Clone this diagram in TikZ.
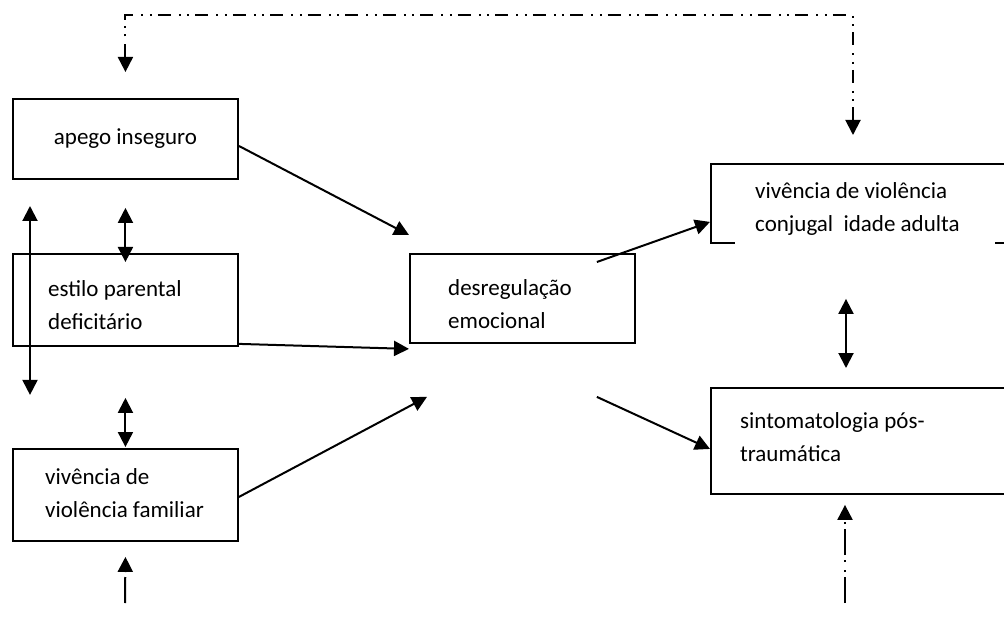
\documentclass[tikz,border=0pt]{standalone}
\usepackage{fontspec}
\setmainfont{Carlito}
\usetikzlibrary{arrows.meta}

\begin{document}
\begin{tikzpicture}[x=1pt,y=-1pt,
        box/.style={draw,line width=1.9pt,anchor=north west,inner sep=0pt},
        lbl/.style={align=flush left,inner sep=0pt,font=\fontsize{23}{33}\selectfont},
        arr/.style={line width=2pt,-{Triangle[length=15pt,width=15pt]}},
        darr/.style={line width=2pt,{Triangle[length=15pt,width=15pt]}-{Triangle[length=15pt,width=15pt]}},
        loopline/.style={line width=2pt,dash pattern=on 13pt off 8pt on 2pt off 6.5pt on 2pt off 6pt},
        inline/.style={line width=2pt,dash pattern=on 26pt off 5pt on 2pt off 8pt on 2pt off 5pt}]
        \useasboundingbox (0,0) rectangle (1004,628);
        \node[box,lbl,minimum width=225pt,minimum height=80pt] (apego) at (12,98) {apego inseguro};
        \node[box,minimum width=225pt,minimum height=92pt] (estilo) at (12,253) {};
        \node[lbl,anchor=west] (estilotxt) at (48,305) {estilo parental\\deficitário};
        \node[box,minimum width=225pt,minimum height=92pt] (familiar) at (12,448) {};
        \node[lbl,anchor=west] (familiartxt) at (45,493) {vivência de\\violência familiar};
        \node[box,minimum width=225pt,minimum height=89pt] (desreg) at (409,253) {};
        \node[lbl,anchor=west] (desregtxt) at (448,304) {desregulação\\emocional};
        \node[box,minimum width=320pt,minimum height=79pt] (conj) at (710,163) {};
        \node[lbl,anchor=west,fill=white,inner xsep=20pt,inner ysep=9pt,text width=220pt] (conjtxt) at (735,209) {vivência de violência\\conjugal\ \ idade adulta};
        \node[box,minimum width=320pt,minimum height=106pt] (sint) at (710,387) {};
        \node[lbl,anchor=west] (sinttxt) at (740,437) {sintomatologia pós-\\traumática};
        \coordinate (fb) at (500,15);
        \coordinate (srcL) at (125,603);
        \coordinate (srcR) at (845,603);
        \draw[arr] ([yshift=-7pt]apego.east) -- ([yshift=18pt]desreg.north west);
        \draw[arr] ([yshift=3pt]estilo.south east) -- ([yshift=-5pt]desreg.south west);
        \draw[arr] ([yshift=-2pt]familiar.east) -- ([xshift=18pt,yshift=-53pt]desreg.south west);
        \draw[arr] ([xshift=-39pt,yshift=-9pt]desreg.north east) -- ([yshift=22pt]conj.south west);
        \draw[arr] ([xshift=-39pt,yshift=-53pt]desreg.south east) -- ([yshift=-8pt]sint.west);
        \draw[darr] ([xshift=18pt,yshift=47pt]estilo.north west) -- ([xshift=18pt,yshift=-48pt]estilo.south west);
        \draw[darr] ([yshift=-28pt]apego.south) -- ([yshift=-9pt]estilo.north);
        \draw[darr] ([yshift=-51pt]estilo.south) -- ([yshift=1pt]familiar.north);
        \draw[darr] ([xshift=136pt,yshift=-55pt]conj.south west) -- ([xshift=136pt,yshift=19pt]sint.north west);
        \draw[loopline,{Triangle[length=15pt,width=15pt]}-{Triangle[length=15pt,width=15pt]}] ([yshift=26pt]apego.north) |- (fb) -| ([xshift=143pt,yshift=28pt]conj.north west);
        \draw[inline,-{Triangle[length=15pt,width=15pt]}] (srcL) -- ([yshift=-15pt]familiar.south);
        \draw[inline,-{Triangle[length=15pt,width=15pt]}] (srcR) -- ([xshift=135pt,yshift=-10pt]sint.south west);
\end{tikzpicture}
\end{document}
